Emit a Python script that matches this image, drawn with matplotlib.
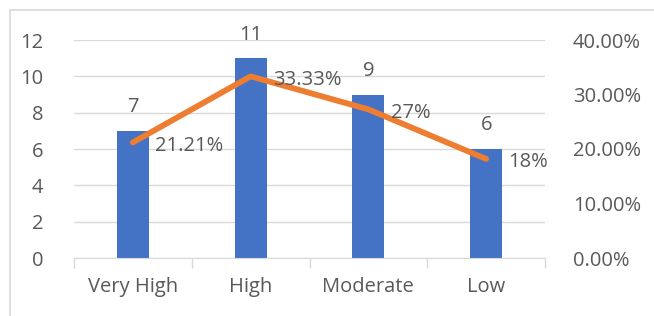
import numpy as np
import matplotlib.pyplot as plt
from matplotlib.patches import Rectangle

categories = ['Very High', 'High', 'Moderate', 'Low']
counts = [7, 11, 9, 6]
shares = [0.2121, 0.3333, 0.2727, 0.1818]
share_labels = ['21.21%', '33.33%', '27%', '18%']

plt.rcParams['font.family'] = ['Open Sans', 'DejaVu Sans']
txt = '#595959'
blue = '#4472C4'
orange = '#ED7D31'
fs = 14.5

fig = plt.figure(figsize=(6.54, 3.16), dpi=100)
W, H = 654, 316
ax = fig.add_axes([74/W, 1 - 258/H, (545-74)/W, (258-40)/H])
ax2 = ax.twinx()

x = np.arange(len(categories))
ax.bar(x, counts, width=0.27, color=blue, zorder=2)
for xi, c in zip(x, counts):
    ax.text(xi, c + 1.3, str(c), ha='center', va='center', fontsize=fs, color=txt)

ax.set_xlim(-0.5, len(categories) - 0.5)
ax.set_ylim(0, 12)
ax.set_yticks(range(0, 13, 2))
ax.grid(axis='y', color='#D9D9D9', linewidth=1, zorder=0)
ax.set_axisbelow(True)
ax.set_xticks(x)
ax.set_xticklabels(categories)
ax.set_xticks(np.arange(-0.5, len(categories)), minor=True)
ax.tick_params(axis='x', which='major', length=0, pad=14, labelsize=fs, labelcolor=txt)
ax.tick_params(axis='x', which='minor', length=7, color='#D9D9D9', width=1)
ax.tick_params(axis='y', length=0, pad=22, labelsize=fs, labelcolor=txt)

ax2.plot(x, shares, color=orange, linewidth=4.2, solid_capstyle='round',
         solid_joinstyle='round', zorder=3)
for xi, s, lab in zip(x, shares, share_labels):
    ax2.text(xi + 0.19, s - 0.006, lab, ha='left', va='center', fontsize=fs, color=txt)
ax2.set_ylim(0, 0.4)
ax2.set_yticks([0, 0.1, 0.2, 0.3, 0.4])
ax2.set_yticklabels(['0.00%', '10.00%', '20.00%', '30.00%', '40.00%'])
ax2.tick_params(axis='y', length=0, pad=20, labelsize=fs, labelcolor=txt)

for a in (ax, ax2):
    for side in ('top', 'left', 'right'):
        a.spines[side].set_visible(False)
ax.spines['bottom'].set_color('#D9D9D9')
ax2.spines['bottom'].set_visible(False)

fig.patches.append(Rectangle((10/W, -0.1), 1.2, 1 - 10/H + 0.1,
                             transform=fig.transFigure, fill=False,
                             edgecolor='#D9D9D9', linewidth=1.2))

fig.savefig('out.png', dpi=100)
